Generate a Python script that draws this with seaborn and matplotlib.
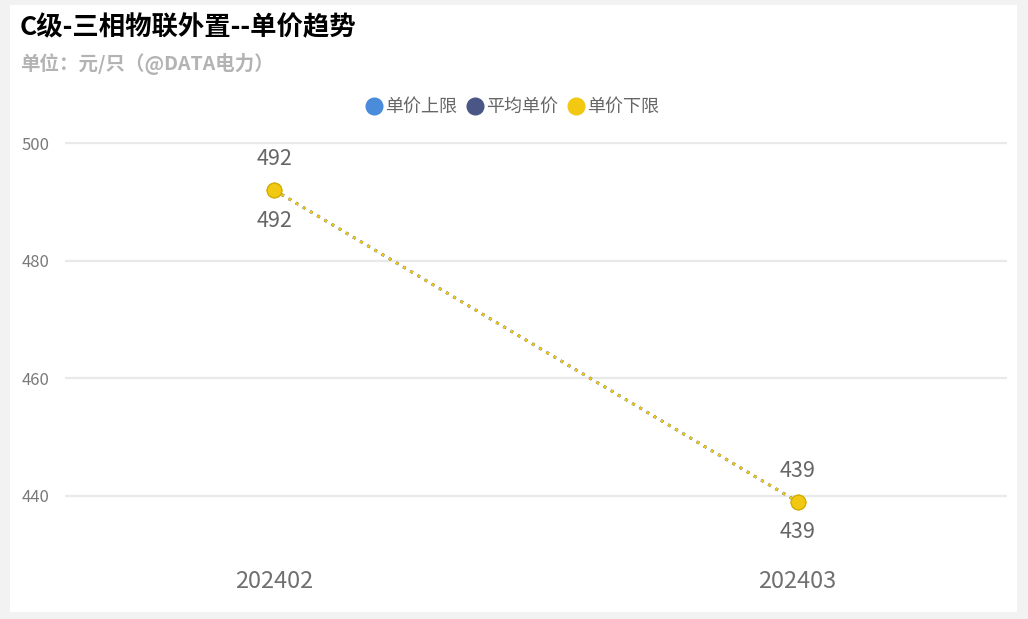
import pandas as pd
import matplotlib
matplotlib.use('Agg')
import matplotlib.pyplot as plt
from matplotlib.lines import Line2D
from matplotlib.patches import Rectangle
import seaborn as sns

months = ['202402', '202403']
upper = [492, 439]
avg = [492, 439]
lower = [492, 439]
series_names = ['单价上限', '平均单价', '单价下限']
colors = ['#4A8CDB', '#4A5786', '#F2C811']
yticks = [440, 460, 480, 500]

sns.set_style('white')
plt.rcParams['font.family'] = ['Noto Sans CJK SC', 'DejaVu Sans']

df = pd.DataFrame({
    'month': months * 3,
    'value': upper + avg + lower,
    'series': [s for s in series_names for _ in months],
})

fig = plt.figure(figsize=(10.28, 6.19), dpi=100)
fig.patch.set_facecolor('#F2F2F2')
fig.add_artist(Rectangle((10 / 1028, 1 - 612 / 619), 1007 / 1028, 607 / 619,
                         transform=fig.transFigure, facecolor='white',
                         edgecolor='none', zorder=0))

ax = fig.add_axes([65 / 1028, 1 - 554.8 / 619, 942 / 1028, 412.3 / 619])
ax.set_facecolor('none')
sns.lineplot(data=df, x='month', y='value', hue='series', hue_order=series_names,
             palette=colors, ax=ax, marker='o', markersize=10.5,
             markeredgecolor='#D4AE00', markeredgewidth=0.8,
             linewidth=2.0, linestyle=(0, (1, 2.0)), legend=False)

ax.set_xlim(-0.4, 1.4)
ax.set_ylim(430, 500.1)
ax.set_yticks(yticks)
ax.grid(axis='y', color='#E9E9E9', linewidth=1.6)
ax.grid(axis='x', visible=False)
for s in ax.spines.values():
    s.set_visible(False)
ax.tick_params(axis='y', length=0, pad=11, labelsize=12, labelcolor='#7A7A7A')
ax.tick_params(axis='x', length=0, pad=11, labelsize=17, labelcolor='#707070')
ax.set_xlabel('')
ax.set_ylabel('')

for i in range(len(months)):
    ax.annotate(str(upper[i]), (i, upper[i]), xytext=(0, 22.5), textcoords='offset points',
                ha='center', va='center', fontsize=15.5, color='#666666')
    ax.annotate(str(lower[i]), (i, lower[i]), xytext=(0, -22), textcoords='offset points',
                ha='center', va='center', fontsize=15.5, color='#666666')

handles = [Line2D([], [], marker='o', linestyle='none', markersize=12,
                  markerfacecolor=c, markeredgecolor=c) for c in colors]
fig.legend(handles, series_names, loc='center', bbox_to_anchor=(511 / 1028, 1 - 107 / 619),
           ncol=3, frameon=False, fontsize=13, labelcolor='#666666',
           handletextpad=0.0, columnspacing=0.4, handlelength=1.2)

fig.text(20 / 1028, 1 - 28 / 619, 'C级-三相物联外置--单价趋势', fontsize=19,
         fontweight='bold', color='black', ha='left', va='center')
fig.text(20 / 1028, 1 - 64 / 619, '单位：元/只（@DATA电力）', fontsize=14,
         fontweight='bold', color='#B3B3B3', ha='left', va='center')

fig.savefig('out.png', dpi=100, facecolor=fig.get_facecolor())
